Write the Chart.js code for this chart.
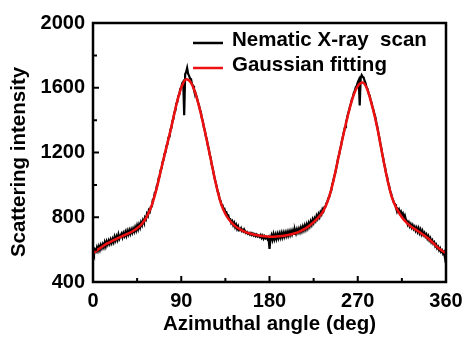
<!DOCTYPE html>
<html>
<head>
<meta charset="utf-8">
<script src="https://cdn.jsdelivr.net/npm/chart.js@4"></script>
<style>
  html, body { margin: 0; padding: 0; background: #fff; }
</style>
</head>
<body>
<canvas id="chart" width="466" height="338"></canvas>
<script>
// X-ray scan, one reading per degree from 0 to 360
const scanStep = 1;
const scanIntensity = [
  585, 568, 600, 590, 614, 594, 620, 600, 627, 610,
  632, 615, 644, 622, 650, 633, 655, 637, 661, 642,
  665, 647, 678, 657, 681, 661, 693, 669, 686, 698,
  677, 701, 685, 708, 687, 715, 695, 719, 699, 723,
  705, 729, 712, 738, 719, 748, 727, 755, 737, 768,
  752, 781, 767, 798, 787, 821, 809, 843, 835, 865,
  867, 908, 915, 951, 957, 993, 1005, 1043, 1052, 1093,
  1102, 1143, 1155, 1193, 1202, 1243, 1252, 1293, 1297, 1341,
  1352, 1395, 1407, 1448, 1459, 1503, 1512, 1548, 1557, 1593,
  1602, 1628, 1637, 1430, 1683, 1697, 1722, 1687, 1673, 1657,
  1653, 1622, 1613, 1587, 1578, 1557, 1538, 1512, 1493, 1467,
  1448, 1412, 1395, 1357, 1338, 1302, 1283, 1247, 1225, 1187,
  1168, 1127, 1105, 1072, 1043, 1017, 993, 962, 948, 915,
  903, 877, 875, 852, 853, 829, 831, 809, 811, 787,
  788, 765, 775, 752, 765, 739, 753, 729, 743, 719,
  721, 732, 715, 722, 708, 715, 703, 709, 698, 703,
  693, 702, 691, 699, 687, 695, 683, 692, 681, 687,
  678, 689, 673, 685, 668, 682, 671, 679, 665, 675,
  605, 667, 688, 662, 693, 665, 691, 667, 695, 672,
  698, 675, 701, 677, 703, 681, 705, 685, 708, 687,
  711, 691, 715, 695, 718, 697, 721, 701, 725, 707,
  728, 709, 735, 715, 741, 721, 748, 727, 755, 735,
  763, 745, 773, 755, 785, 767, 793, 779, 808, 792,
  818, 802, 831, 819, 848, 837, 863, 865, 885, 895,
  918, 927, 951, 965, 1003, 1022, 1053, 1072, 1103, 1132,
  1168, 1187, 1218, 1242, 1278, 1302, 1333, 1357, 1388, 1407,
  1438, 1457, 1483, 1502, 1528, 1542, 1568, 1582, 1603, 1612,
  1633, 1647, 1490, 1662, 1678, 1667, 1663, 1642, 1628, 1602,
  1593, 1567, 1553, 1527, 1508, 1482, 1463, 1437, 1418, 1382,
  1358, 1322, 1293, 1257, 1228, 1192, 1163, 1127, 1103, 1067,
  1048, 1012, 993, 962, 948, 922, 908, 887, 881, 859,
  858, 837, 848, 825, 835, 812, 823, 799, 811, 787,
  778, 755, 768, 745, 758, 737, 751, 729, 741, 719,
  735, 712, 731, 705, 723, 697, 715, 692, 703, 682,
  693, 669, 683, 659, 671, 647, 658, 637, 645, 622,
  631, 609, 618, 597, 608, 587, 595, 575, 585, 548,
  572
];

// Gaussian fit, read every 5 degrees
const fitAngles = [
  0, 5, 10, 15, 20, 25, 30, 35, 40, 45, 50, 55, 60, 65, 70, 75, 80, 85, 90, 95,
  100, 105, 110, 115, 120, 125, 130, 135, 140, 145, 150, 155, 160, 165, 170, 175,
  180, 185, 190, 195, 200, 205, 210, 215, 220, 225, 230, 235, 240, 245, 250, 255,
  260, 265, 270, 275, 280, 285, 290, 295, 300, 305, 310, 315, 320, 325, 330, 335,
  340, 345, 350, 355, 360
];
const fitIntensity = [
  578, 600, 621, 640, 655, 670, 684, 697, 712, 732, 760, 805, 875, 980, 1110, 1235, 1360, 1495, 1600, 1652,
  1630, 1555, 1440, 1305, 1160, 1015, 895, 820, 775, 745, 725, 710, 700, 692, 686, 682,
  680, 680, 682, 686, 692, 700, 710, 725, 745, 770, 800, 840, 910, 1020, 1160, 1300,
  1430, 1540, 1610, 1632, 1585, 1480, 1350, 1190, 1040, 920, 850, 800, 765, 740, 720, 700,
  678, 652, 622, 598, 578
];

const xTicks = [0, 90, 180, 270, 360];
const xMinorTicks = [45, 135, 225, 315];
const yTicks = [400, 800, 1200, 1600, 2000];
const yMinorTicks = [600, 1000, 1400, 1800];

const seriesNames = ["Nematic X-ray  scan", "Gaussian fitting"];

const FONT = "'Liberation Sans', Arial, sans-serif";

// frame, inward ticks, axis titles and legend
const framePlugin = {
  id: "frame",
  afterDraw(chart) {
    const ctx = chart.ctx;
    const a = chart.chartArea;
    const xs = chart.scales.x, ys = chart.scales.y;
    ctx.save();
    ctx.strokeStyle = "#000000";
    ctx.lineWidth = 2.5;
    ctx.strokeRect(a.left, a.top, a.right - a.left, a.bottom - a.top);

    ctx.lineWidth = 2;
    ctx.beginPath();
    xTicks.forEach(v => {
      const px = xs.getPixelForValue(v);
      ctx.moveTo(px, a.bottom); ctx.lineTo(px, a.bottom - 6);
    });
    xMinorTicks.forEach(v => {
      const px = xs.getPixelForValue(v);
      ctx.moveTo(px, a.bottom); ctx.lineTo(px, a.bottom - 4);
    });
    yTicks.forEach(v => {
      const py = ys.getPixelForValue(v);
      ctx.moveTo(a.left, py); ctx.lineTo(a.left + 6, py);
    });
    yMinorTicks.forEach(v => {
      const py = ys.getPixelForValue(v);
      ctx.moveTo(a.left, py); ctx.lineTo(a.left + 4, py);
    });
    ctx.stroke();

    // axis titles
    ctx.fillStyle = "#000000";
    ctx.font = "bold 20.5px " + FONT;
    ctx.textAlign = "center";
    ctx.textBaseline = "middle";
    ctx.fillText("Azimuthal angle (deg)", (a.left + a.right) / 2, 324);
    ctx.save();
    ctx.translate(19, 162);
    ctx.rotate(-Math.PI / 2);
    ctx.fillText("Scattering intensity", 0, 0);
    ctx.restore();

    // legend
    ctx.textAlign = "left";
    const rows = [43, 68];
    chart.data.datasets.forEach((ds, i) => {
      const y = rows[i];
      ctx.strokeStyle = ds.borderColor;
      ctx.lineWidth = 2.5;
      ctx.beginPath();
      ctx.moveTo(193, y); ctx.lineTo(223, y);
      ctx.stroke();
      ctx.fillText(ds.label, 232, y - 3);
    });
    ctx.restore();
  }
};

new Chart(document.getElementById("chart"), {
  type: "line",
  data: {
    datasets: [
      {
        label: seriesNames[0],
        data: scanIntensity.map((v, i) => ({ x: i * scanStep, y: v })),
        borderColor: "#000000",
        borderWidth: 2.2,
        pointRadius: 0,
        tension: 0,
        order: 1
      },
      {
        label: seriesNames[1],
        data: fitAngles.map((x, i) => ({ x: x, y: fitIntensity[i] })),
        borderColor: "#ee1111",
        borderWidth: 2.5,
        pointRadius: 0,
        cubicInterpolationMode: "monotone",
        order: 0
      }
    ]
  },
  options: {
    responsive: false,
    animation: false,
    layout: { padding: { left: 0, right: 20, top: 23, bottom: 0 } },
    plugins: { legend: { display: false }, tooltip: { enabled: false } },
    scales: {
      x: {
        type: "linear",
        min: 0, max: 360,
        grid: { display: false },
        border: { display: false },
        afterBuildTicks: s => { s.ticks = xTicks.map(v => ({ value: v })); },
        afterFit: s => { s.height = 56; },
        ticks: {
          padding: -1, color: "#000", maxRotation: 0,
          callback: v => String(v),
          font: { family: FONT, size: 20, weight: "bold" }
        }
      },
      y: {
        min: 400, max: 2000,
        grid: { display: false },
        border: { display: false },
        afterBuildTicks: s => { s.ticks = yTicks.map(v => ({ value: v })); },
        afterFit: s => { s.width = 93; },
        ticks: {
          padding: 0, color: "#000",
          callback: v => String(v),
          font: { family: FONT, size: 20, weight: "bold" }
        }
      }
    }
  },
  plugins: [framePlugin]
});
</script>
</body>
</html>
